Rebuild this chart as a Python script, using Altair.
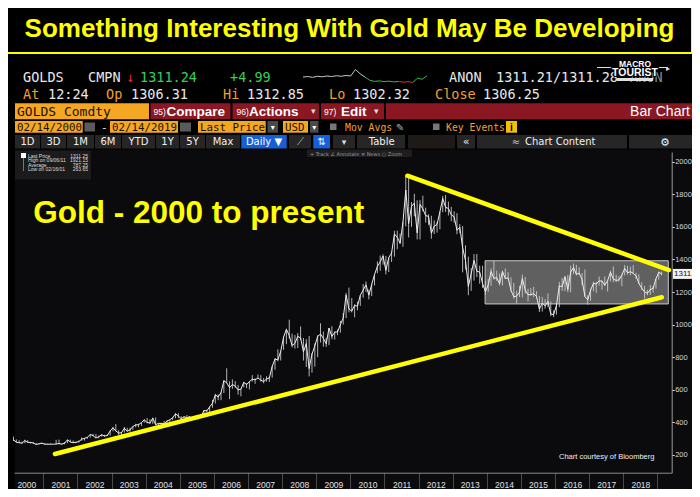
import altair as alt
import pandas as pd

# ---------------- data (monthly, Feb 2000 - Feb 2019) ----------------
close = [
    293, 278, 275, 272, 288, 277, 277, 273, 264, 269, 272,
    266, 266, 266, 266, 267, 270, 266, 273, 293, 279, 275, 278,
    282, 297, 302, 308, 326, 318, 304, 312, 324, 316, 319, 347,
    367, 347, 334, 337, 364, 346, 354, 375, 384, 386, 398, 416,
    399, 396, 426, 386, 394, 393, 392, 408, 416, 428, 453, 438,
    422, 435, 428, 436, 417, 437, 429, 434, 473, 470, 495, 517,
    569, 556, 582, 655, 643, 613, 632, 623, 599, 604, 646, 632,
    650, 665, 662, 672, 659, 650, 666, 673, 743, 789, 783, 836,
    923, 971, 933, 871, 885, 928, 918, 833, 884, 730, 819, 869,
    928, 942, 916, 883, 979, 927, 954, 955, 1001, 1040, 1182, 1096,
    1083, 1118, 1113, 1180, 1212, 1244, 1181, 1246, 1307, 1357, 1386, 1421,
    1333, 1411, 1439, 1556, 1536, 1500, 1628, 1826, 1620, 1725, 1746, 1563,
    1738, 1710, 1669, 1664, 1561, 1604, 1615, 1692, 1774, 1720, 1713, 1674,
    1662, 1579, 1598, 1472, 1393, 1234, 1312, 1395, 1327, 1323, 1253, 1202,
    1244, 1326, 1284, 1288, 1250, 1327, 1283, 1287, 1210, 1171, 1175, 1199,
    1283, 1213, 1183, 1184, 1190, 1172, 1095, 1132, 1115, 1142, 1065, 1061,
    1118, 1238, 1233, 1294, 1215, 1322, 1351, 1309, 1316, 1277, 1173, 1152,
    1211, 1253, 1249, 1268, 1268, 1242, 1270, 1322, 1280, 1271, 1275, 1303,
    1345, 1318, 1325, 1315, 1298, 1253, 1224, 1201, 1192, 1215, 1222, 1282,
    1321, 1311,
]
low = [
    285, 276, 273, 270, 272, 276, 270, 268, 264, 264, 268,
    264, 264, 264, 265, 265, 266, 265, 265, 272, 278, 273, 272,
    277, 287, 288, 299, 306, 315, 303, 302, 312, 312, 315, 318,
    345, 345, 323, 320, 337, 342, 342, 354, 370, 369, 378, 398,
    395, 390, 391, 384, 372, 385, 387, 390, 398, 413, 425, 426,
    414, 411, 425, 422, 414, 416, 418, 429, 434, 461, 458, 490,
    516, 536, 536, 580, 640, 543, 606, 613, 570, 560, 615, 610,
    602, 650, 637, 670, 650, 640, 650, 648, 674, 723, 775, 780,
    845, 880, 915, 860, 853, 856, 905, 780, 740, 682, 705, 742,
    800, 890, 865, 863, 874, 910, 908, 935, 950, 1000, 1040, 1075,
    1075, 1045, 1088, 1115, 1165, 1200, 1155, 1175, 1240, 1315, 1330, 1368,
    1308, 1323, 1385, 1417, 1462, 1495, 1478, 1603, 1535, 1600, 1665, 1523,
    1523, 1695, 1627, 1612, 1527, 1556, 1565, 1585, 1690, 1692, 1670, 1635,
    1626, 1555, 1562, 1321, 1338, 1180, 1207, 1270, 1292, 1251, 1226, 1182,
    1202, 1238, 1277, 1268, 1240, 1240, 1280, 1280, 1205, 1160, 1131, 1170,
    1167, 1190, 1142, 1177, 1169, 1162, 1077, 1080, 1098, 1107, 1052, 1046,
    1061, 1107, 1208, 1206, 1199, 1199, 1310, 1302, 1305, 1241, 1171, 1123,
    1146, 1205, 1195, 1240, 1214, 1237, 1204, 1265, 1260, 1260, 1263, 1236,
    1302, 1307, 1303, 1309, 1281, 1250, 1211, 1160, 1180, 1182, 1196, 1221,
    1276, 1302,
]
high = [
    313, 295, 290, 282, 293, 291, 280, 279, 274, 270, 275,
    272, 269, 270, 266, 293, 294, 272, 279, 293, 294, 289, 280,
    289, 308, 304, 310, 327, 330, 328, 318, 327, 324, 327, 350,
    372, 389, 352, 341, 372, 367, 367, 375, 391, 391, 399, 417,
    427, 419, 429, 430, 394, 398, 409, 413, 416, 433, 456, 456,
    438, 437, 445, 437, 433, 441, 436, 447, 475, 478, 497, 538,
    574, 572, 586, 660, 732, 652, 664, 653, 630, 607, 648, 640,
    654, 690, 670, 694, 690, 672, 683, 678, 747, 795, 848, 840,
    927, 975, 1030, 945, 936, 948, 989, 918, 910, 930, 826, 885,
    935, 1008, 958, 920, 978, 990, 958, 970, 1023, 1070, 1195, 1227,
    1163, 1125, 1140, 1180, 1249, 1265, 1215, 1250, 1310, 1388, 1424, 1432,
    1422, 1414, 1448, 1576, 1577, 1558, 1632, 1912, 1921, 1752, 1803, 1763,
    1764, 1791, 1718, 1677, 1668, 1640, 1630, 1694, 1790, 1796, 1755, 1723,
    1696, 1684, 1617, 1605, 1487, 1417, 1348, 1433, 1434, 1362, 1361, 1268,
    1280, 1345, 1392, 1331, 1315, 1331, 1345, 1322, 1290, 1256, 1208, 1238,
    1307, 1293, 1220, 1224, 1232, 1205, 1175, 1170, 1157, 1191, 1142, 1088,
    1127, 1263, 1287, 1297, 1305, 1362, 1375, 1367, 1352, 1317, 1338, 1180,
    1220, 1264, 1262, 1295, 1270, 1296, 1272, 1331, 1357, 1306, 1299, 1309,
    1366, 1361, 1356, 1365, 1318, 1309, 1261, 1238, 1214, 1243, 1237, 1284,
    1326, 1326,
]
year_ticks = list(range(2001, 2020))
price_ticks = [200, 400, 600, 800, 1000, 1200, 1400, 1600, 1800, 2000]

# annotation geometry (in data units)
trend_x1 = [2011.67, 2001.34]
trend_y1 = [1914, 206]
trend_x2 = [2019.34, 2019.13]
trend_y2 = [1335, 1168]
box_x = [2013.95]
box_x2 = [2019.32]
box_lo = [1127]
box_hi = [1392]
last_price = [1311.24]

# intraday sparkline in the header
spark_vals = [1307.0, 1307.2, 1306.9, 1307.3, 1307.1, 1307.4, 1307.2, 1307.5, 1307.3,
              1307.6, 1307.4, 1309.8, 1308.2, 1307.0, 1305.8, 1305.4, 1305.6, 1305.3,
              1305.5, 1305.2, 1305.4, 1305.1, 1305.3, 1305.0, 1306.6, 1306.2, 1307.5]
spark_segments = [("a", 0, 13), ("b", 13, 20), ("c", 20, 23), ("d", 23, 26)]

# ---------------- frames ----------------
months = pd.date_range("2000-02-01", periods=len(close), freq="MS")
t = months.year + (months.month - 1 + 0.5) / 12
price = pd.DataFrame({"t": t, "close": close, "lo": low, "hi": high})
trend = pd.DataFrame({"x": trend_x1, "y": trend_y1, "x2": trend_x2, "y2": trend_y2})
box = pd.DataFrame({"x": box_x, "x2": box_x2, "y": box_lo, "y2": box_hi})
last = pd.DataFrame({"v": last_price, "label": ["1311.2"]})
rows = []
for seg, a, b in spark_segments:
    for i in range(a, b + 1):
        rows.append({"i": i, "v": spark_vals[i], "seg": seg})
spark = pd.DataFrame(rows)
ONE = pd.DataFrame({"k": [0]})

O = 8  # page margin
MONO = "DejaVu Sans Mono"
SANS = "Liberation Sans"
YEL = "#ffff00"
ORG = "#f0a033"
WHT = "#e8e8e8"

xs = alt.Scale(domain=[2000.14, 2019.42], range=[14 - O, 671.7 - O], nice=False, zero=False)
ys = alt.Scale(domain=[91, 2059.6], range=[472.7 - O, 152 - O], nice=False, zero=False)

xax = alt.Axis(values=year_ticks, labelExpr="'' + (datum.value - 1)", orient="bottom",
               offset=-(481 - (472.7 - O)), tickSize=24, tickColor="#4a4a4a",
               domainColor="#8a8a8a", labelColor="#e0e0e0", labelFontSize=8.5, labelFont=SANS,
               labelOffset=-17, labelPadding=-12.7, labelBaseline="middle", labelAlign="center",
               title=None, grid=False, labelFlush=False, labelOverlap=False, labelBound=False,
               zindex=2)
yax = alt.Axis(values=price_ticks, orient="right", offset=-(684 - (671.7 - O)), tickSize=2.5,
               tickColor="#dddddd", domainColor="#9a9a9a", labelColor="#d8d8d8",
               labelFontSize=7.5, labelFont=SANS, labelPadding=0.5, format="d",
               grid=False, title=None, labelFlush=False, zindex=2)


def T(s, x, y, size=13.5, color=WHT, font=MONO, align="left", weight="normal",
      baseline="alphabetic", style="normal", stroke=None, sw=0):
    kw = dict(text=s, fontSize=size, color=color, font=font, align=align,
              fontWeight=weight, baseline=baseline, fontStyle=style)
    if stroke:
        kw.update(stroke=stroke, strokeWidth=sw)
    return alt.Chart(ONE).mark_text(**kw).encode(x=alt.value(x - O), y=alt.value(y - O))


def R(x0, x1, y0, y1, fill, stroke=None, sw=0, fop=1.0):
    kw = dict(fill=fill, fillOpacity=fop)
    if stroke:
        kw.update(stroke=stroke, strokeWidth=sw)
    return alt.Chart(ONE).mark_rect(**kw).encode(
        x=alt.value(x0 - O), x2=alt.value(x1 - O), y=alt.value(y0 - O), y2=alt.value(y1 - O))


def L(x0, x1, y0, y1, color, w=1):
    return alt.Chart(ONE).mark_rule(color=color, strokeWidth=w).encode(
        x=alt.value(x0 - O), x2=alt.value(x1 - O), y=alt.value(y0 - O), y2=alt.value(y1 - O))


# ---------------- main chart ----------------
X = lambda f: alt.X(f, type="quantitative", scale=xs, axis=xax)
Y = lambda f: alt.Y(f, type="quantitative", scale=ys, axis=yax)

box_l = alt.Chart(box).mark_rect(fill="#9a9a9a", fillOpacity=0.6, stroke="#c8c8c8", strokeWidth=1).encode(
    x=X("x"), x2="x2:Q", y=Y("y"), y2="y2:Q")
bars = alt.Chart(price).mark_rule(color="#d0d0d0", strokeWidth=1, opacity=0.85).encode(
    x=X("t"), y=Y("lo"), y2="hi:Q")
line = alt.Chart(price).mark_line(color="#ececec", strokeWidth=1).encode(x=X("t"), y=Y("close"))
trend_l = alt.Chart(trend).mark_rule(color=YEL, strokeWidth=4.5, strokeCap="round").encode(
    x=X("x"), y=Y("y"), x2="x2:Q", y2="y2:Q")
tag_box = alt.Chart(last).mark_point(shape="M-1,-0.37H1V0.37H-1Z", filled=True, fill="#f2f2f2",
                                     opacity=1, size=729, strokeWidth=0).encode(
    y=Y("v"), x=alt.value(686.5 - O))
tag_txt = alt.Chart(last).mark_text(fontSize=8, color="#111", font=SANS, align="left",
                                    baseline="middle").encode(
    y=Y("v"), x=alt.value(674 - O), text="label:N")
main = alt.layer(box_l, bars, line, trend_l, tag_box, tag_txt)

spark_l = alt.Chart(spark).mark_line(strokeWidth=1).encode(
    x=alt.X("i:Q", scale=alt.Scale(domain=[0, 26], range=[303 - O, 427 - O], nice=False, zero=False), axis=None),
    y=alt.Y("v:Q", scale=alt.Scale(domain=[1304.8, 1310], range=[83 - O, 69 - O], nice=False, zero=False), axis=None),
    color=alt.Color("seg:N", scale=alt.Scale(domain=["a", "b", "c", "d"],
                                             range=["#c8c8c8", "#2fbf4a", "#d8302a", "#2fbf4a"]), legend=None),
)

# ---------------- decoration ----------------
deco = []
# chart panel background
deco.append(R(15, 700, 149.5, 497, "#0b0b0e"))
# title
deco.append(R(7, 692, 6.5, 53, "#000000", stroke=YEL, sw=2, fop=0))
deco.append(T("Something Interesting With Gold May Be Developing", 349.5, 36.7, size=26,
              color=YEL, font=SANS, align="center", weight="bold"))
# row 1
deco += [T("GOLDS", 23, 81.7), T("CMPN", 88, 81.7), T("↓", 126, 81.7, color="#e0302a"),
         T("1311.24", 140, 81.7, color="#34d058"), T("+4.99", 230, 81.7, color="#34d058"),
         T("ANON", 449, 81.7), T("1311.21/1311.28", 496, 81.7), T("ANON", 630, 81.7, color="#8a8a8a")]
# logo
deco += [L(597, 614, 67.5, 67.5, "#dddddd"), L(656, 668, 67.5, 67.5, "#dddddd"),
         T("▸", 666, 70.5, size=8, color="#dddddd", font="DejaVu Sans"),
         T("MACRO", 635, 66.5, size=8.5, color="#ffffff", font=SANS, align="center", weight="bold",
           stroke="#000000", sw=1.5),
         T("MACRO", 635, 66.5, size=8.5, color="#ffffff", font=SANS, align="center", weight="bold"),
         T("TOURIST", 635, 76, size=10.5, color="#ffffff", font=SANS, align="center", weight="bold",
           stroke="#000000", sw=2),
         T("TOURIST", 635, 76, size=10.5, color="#ffffff", font=SANS, align="center", weight="bold"),
         R(617, 653, 78, 81, "#e0e0e0")]
# row 2
deco += [T("At", 23, 98.7, color=ORG), T("12:24", 48, 98.7), T("Op", 106, 98.7, color=ORG),
         T("1306.31", 131, 98.7), T("Hi", 223, 98.7, color=ORG), T("1312.85", 247, 98.7),
         T("Lo", 329, 98.7, color=ORG), T("1302.32", 353, 98.7), T("Close", 435, 98.7, color=ORG),
         T("1306.25", 483, 98.7)]
# row 3
RED = "#8a1722"
deco += [R(15, 149, 103.3, 119.3, "#f5a623"), T("GOLDS Comdty", 17, 115.5, size=13, color="#1a1200"),
         R(150.5, 230.5, 103.3, 119.3, RED), R(232.5, 319, 103.3, 119.3, RED),
         R(321, 384, 103.3, 119.3, RED), R(386, 700, 103.3, 119.3, RED),
         T("95)", 153.5, 114.5, size=8.5, color="#ffffff", font=SANS),
         T("Compare", 166.5, 115.8, size=13.5, color="#ffffff", font=SANS, weight="bold"),
         T("96)", 236.5, 114.5, size=8.5, color="#ffffff", font=SANS),
         T("Actions", 249, 115.8, size=13.5, color="#ffffff", font=SANS, weight="bold"),
         T("▾", 311, 114, size=9, color="#dddddd", font="DejaVu Sans"),
         T("97)", 324, 114.5, size=8.5, color="#ffffff", font=SANS),
         T("Edit", 341, 115.8, size=13.5, color="#ffffff", font=SANS, weight="bold"),
         T("▾", 374, 114, size=9, color="#dddddd", font="DejaVu Sans"),
         T("Bar Chart", 690, 115.8, size=14, color="#ffffff", font=SANS, align="right")]
# row 4
OB = "#f5a623"
DK = "#1a1200"
deco += [R(15, 82.7, 121, 132.7, OB), T("02/14/2000", 17, 130.8, size=10.8, color=DK),
         R(84.5, 95, 122.5, 131.5, "#5a5a5a"), T("-", 101, 130.5, size=11),
         R(110, 178, 121, 132.7, OB), T("02/14/2019", 112, 130.8, size=10.8, color=DK),
         R(180, 191, 122.5, 131.5, "#5a5a5a"),
         R(198, 265.7, 121, 132.7, OB), T("Last Price", 200, 130.8, size=10.8, color=DK),
         R(267.5, 278, 121, 132.7, "#4a4a4a"), T("▾", 272.7, 130, size=8, color="#ffffff", font="DejaVu Sans", align="center"),
         R(283, 308, 121, 132.7, OB), T("USD", 285, 130.8, size=10.8, color=DK),
         R(310, 318.5, 121, 132.7, "#4a4a4a"), T("▾", 314.2, 130, size=8, color="#ffffff", font="DejaVu Sans", align="center"),
         R(330, 336.5, 123.5, 130, "#777777"), T("Mov Avgs", 345, 130.8, size=9.8, color=ORG),
         T("✎", 396, 130.8, size=10, color="#aaaaaa", font="DejaVu Sans"),
         R(433, 439.5, 123.5, 130, "#777777"), T("Key Events", 446, 130.8, size=9.8, color=ORG),
         R(506, 517, 121, 132.7, "#f2c200"),
         T("i", 511.5, 130.5, size=10, color="#000000", font=SANS, align="center", weight="bold")]
# row 5
buttons = [(15, 40, "1D"), (41, 66, "3D"), (67, 94, "1M"), (95, 121, "6M"), (122, 155, "YTD"),
           (156, 179, "1Y"), (180, 205, "5Y"), (206, 240, "Max")]
for a, b, s in buttons:
    deco.append(R(a, b, 135, 148.5, "#262626"))
    deco.append(T(s, (a + b) / 2, 145.3, size=10, color="#f0f0f0", font="DejaVu Sans", align="center"))
deco += [R(241.3, 286.7, 135, 148.5, "#1560d8"),
         T("Daily ▼", 264, 145.3, size=10, color="#ffffff", font="DejaVu Sans", align="center"),
         R(289, 311, 135, 148.5, "#262626"), T("⟋", 300, 145.3, size=10, color="#bbbbbb", font="DejaVu Sans", align="center"),
         R(313.3, 330, 135, 148.5, "#1560d8"), T("⇅", 321.6, 145.3, size=10, color="#ffffff", font="DejaVu Sans", align="center"),
         R(333, 355, 135, 148.5, "#262626"), T("▾", 344, 145, size=9, color="#dddddd", font="DejaVu Sans", align="center"),
         R(357, 405, 135, 148.5, "#262626"), T("Table", 381.7, 145.3, size=10, color="#f0f0f0", font="DejaVu Sans", align="center"),
         R(408, 455, 135, 148.5, "#1d1a17"),
         R(457, 475, 135, 148.5, "#262626"), T("«", 466, 145.3, size=11, color="#f0f0f0", font="DejaVu Sans", align="center"),
         R(477, 627, 135, 148.5, "#262626"), T("≈", 516, 145.3, size=10, color="#cccccc", font="DejaVu Sans", align="center"),
         T("Chart Content", 525, 145.3, size=10, color="#f0f0f0", font="DejaVu Sans"),
         R(629, 700, 135, 148.5, "#262626"), T("⚙", 665, 145.8, size=11, color="#f0f0f0", font="DejaVu Sans", align="center")]
# legend box & toolbar inside chart
deco += [R(15, 91, 150.5, 179.5, "#1b1b1b"), R(21, 26, 153, 158, "#ffffff"),
         L(23.5, 23.5, 158, 171, "#777777")]
leg = [("Last Price", "1311.25", 157.5), ("High on 09/06/11", "1921.15", 162),
       ("Average", "787.25", 166.5), ("Low on 02/16/01", "263.65", 171)]
for name, val, yy in leg:
    deco.append(T(name, 28, yy, size=5, color="#dddddd", font=SANS))
    deco.append(T(val, 88, yy, size=5, color="#dddddd", font=SANS, align="right"))
deco += [R(307, 412, 149.5, 157, "#1e1e1e"),
         T("+ Track   ∠ Annotate   ≡ News   ○ Zoom", 310, 155.5, size=5, color="#9a9a9a", font="DejaVu Sans")]
# big annotation and credit
deco += [T("Gold - 2000 to present", 33.3, 223.3, size=31.5, color=YEL, font=SANS, weight="bold"),
         T("Chart courtesy of Bloomberg", 606.7, 459, size=7.5, color="#eeeeee", font=SANS, align="center")]

chart = alt.layer(*deco, main, spark_l).resolve_scale(x="independent", y="independent").properties(
    width=684, height=481, background="#000000", padding=0,
    autosize=alt.AutoSizeParams(type="none"),
).configure_view(stroke=None)

chart.save("out.html", embed_options={"renderer": "svg", "actions": False})
